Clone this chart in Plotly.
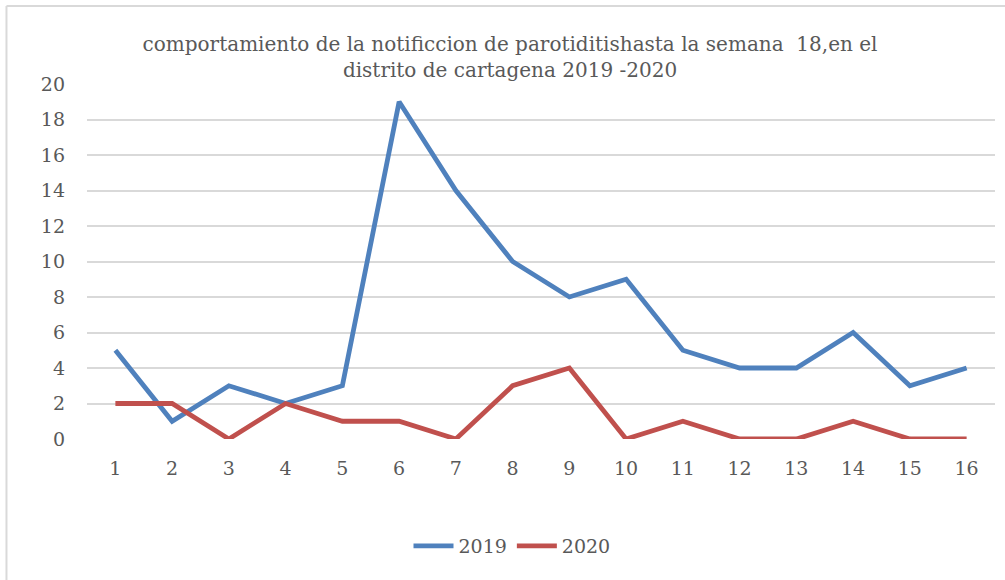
import plotly.graph_objects as go

semanas = [str(i) for i in range(1, 17)]
casos_2019 = [5, 1, 3, 2, 3, 19, 14, 10, 8, 9, 5, 4, 4, 6, 3, 4]
casos_2020 = [2, 2, 0, 2, 1, 1, 0, 3, 4, 0, 1, 0, 0, 1, 0, 0]
y_ticks = list(range(0, 21, 2))

titulo = ("comportamiento de la notificcion de parotiditishasta la semana&nbsp;&nbsp;18,en el<br>"
          "distrito de cartagena 2019 -2020")

FONT = "DejaVu Serif, Liberation Serif, serif"
TXT = "#595959"

fig = go.Figure()
fig.add_trace(go.Scatter(x=semanas, y=casos_2019, mode="lines", name="2019",
                         line=dict(color="#4f81bd", width=4.8)))
fig.add_trace(go.Scatter(x=semanas, y=casos_2020, mode="lines", name="2020",
                         line=dict(color="#c0504d", width=4.8)))

W, H = 1005, 580
ml, mr, mt, mb = 86.6, 9.6, 84, 141
pw, ph = W - ml - mr, H - mt - mb

def px(x):
    return (x - ml) / pw

def py(y):
    return (H - mb - y) / ph

fig.update_layout(
    width=W, height=H,
    margin=dict(l=ml, r=mr, t=mt, b=mb, autoexpand=False),
    paper_bgcolor="white", plot_bgcolor="white",
    font=dict(family=FONT, color=TXT, size=18),
    title=dict(text=titulo, x=510 / W, xanchor="center", y=1 - 51 / H, yanchor="middle",
               font=dict(family=FONT, size=20, color=TXT)),
    xaxis=dict(type="category", range=[-0.5, 15.5], showgrid=False, zeroline=False,
               showline=False, ticks="", automargin=False,
               tickfont=dict(size=19, color=TXT), ticklabelstandoff=16),
    yaxis=dict(range=[0, 20], tickvals=y_ticks, showgrid=True, gridcolor="#d9d9d9",
               gridwidth=1.5, zeroline=False, showline=False, ticks="", automargin=False,
               tickfont=dict(size=19, color=TXT), ticklabelstandoff=21),
    legend=dict(orientation="h", x=512 / W, xanchor="center", xref="container",
                y=1 - 546 / H, yref="container", yanchor="middle",
                font=dict(size=19, color=TXT), itemwidth=40),
    showlegend=True,
    shapes=[
        dict(type="line", xref="paper", yref="paper", x0=px(6), x1=px(1010), y0=py(6), y1=py(6),
             line=dict(color="#d9d9d9", width=2)),
        dict(type="line", xref="paper", yref="paper", x0=px(6), x1=px(6), y0=py(6), y1=py(590),
             line=dict(color="#d9d9d9", width=2)),
    ],
)

fig.write_html("out.html", config={"displayModeBar": False},
               post_script="document.body.style.margin='0';")
